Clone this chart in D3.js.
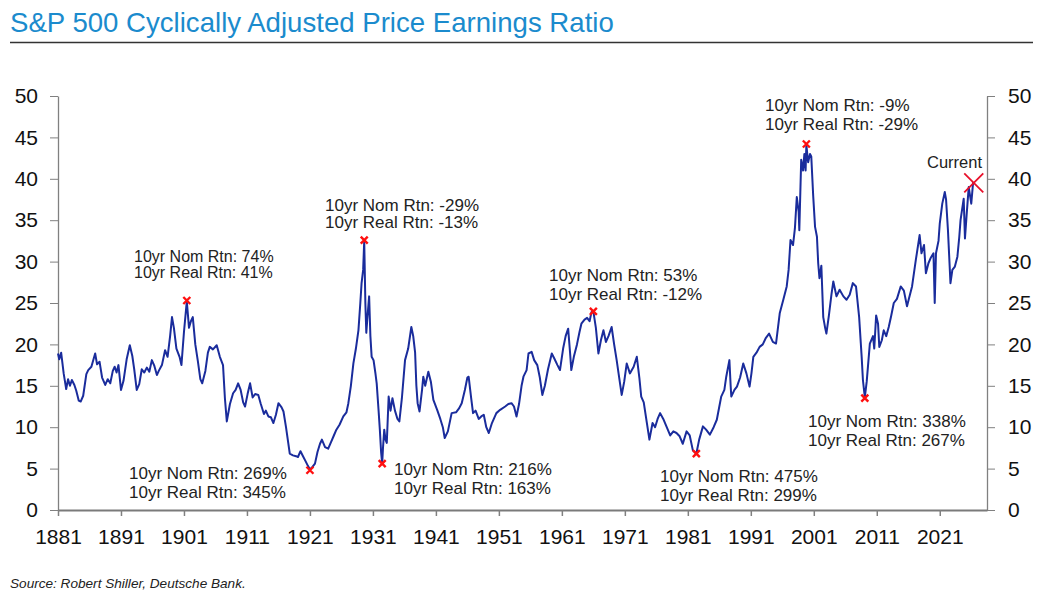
<!doctype html>
<html>
  <head>
    <meta charset="utf-8">
    <title>S&amp;P 500 CAPE</title>
    <script src="https://cdnjs.cloudflare.com/ajax/libs/d3/7.8.5/d3.min.js"></script>
    <style>
      body { margin: 0; background: #fff; }
      text { font-family: "Liberation Sans", Arial, sans-serif; }
    </style>
    <script>
      // CAPE series (decimal year, ratio)
      var years = [
        1881.0, 1881.2, 1881.5, 1881.9, 1882.3, 1882.6, 1882.9, 1883.2, 1883.6, 1883.9,
        1884.3, 1884.6, 1885.0, 1885.5, 1885.8, 1886.3, 1886.9, 1887.2, 1887.6, 1888.0,
        1888.5, 1888.9, 1889.3, 1889.7, 1890.0, 1890.3, 1890.6, 1891.0, 1891.4, 1891.9,
        1892.4, 1892.8, 1893.1, 1893.5, 1893.9, 1894.3, 1894.7, 1895.1, 1895.5, 1895.9,
        1896.3, 1896.7, 1897.0, 1897.5, 1898.0, 1898.4, 1898.8, 1899.1, 1899.4, 1899.8,
        1900.3, 1900.6, 1901.0, 1901.45, 1901.8, 1902.1, 1902.4, 1902.8, 1903.2, 1903.6,
        1903.9, 1904.4, 1904.8, 1905.1, 1905.6, 1906.2, 1906.7, 1907.2, 1907.5, 1907.8,
        1908.3, 1908.8, 1909.2, 1909.6, 1910.0, 1910.4, 1910.7, 1911.1, 1911.5, 1911.9,
        1912.3, 1912.8, 1913.2, 1913.7, 1914.0, 1914.4, 1914.8, 1915.2, 1915.6, 1916.0,
        1916.5, 1916.8, 1917.2, 1917.8, 1918.3, 1918.8, 1919.1, 1919.5, 1919.9, 1920.3,
        1920.7, 1921.0, 1921.4, 1921.8, 1922.2, 1922.6, 1922.9, 1923.4, 1923.9, 1924.4,
        1924.8, 1925.2, 1925.7, 1926.3, 1926.8, 1927.1, 1927.5, 1927.9, 1928.3, 1928.7,
        1929.0, 1929.2, 1929.45, 1929.62, 1929.8, 1929.95, 1930.1, 1930.4, 1930.6, 1930.8,
        1931.1, 1931.4, 1931.6, 1931.9, 1932.1, 1932.3, 1932.47, 1932.6, 1932.8, 1933.0,
        1933.2, 1933.5, 1933.8, 1934.1, 1934.5, 1934.9, 1935.2, 1935.6, 1936.1, 1936.6,
        1937.1, 1937.4, 1937.7, 1937.9, 1938.1, 1938.4, 1938.8, 1939.0, 1939.3, 1939.8,
        1940.2, 1940.6, 1941.2, 1941.7, 1942.1, 1942.4, 1942.9, 1943.5, 1944.2, 1944.7,
        1945.1, 1945.6, 1946.0, 1946.2, 1946.6, 1946.9, 1947.3, 1947.8, 1948.2, 1948.6,
        1949.0, 1949.4, 1949.9, 1950.6, 1951.2, 1952.0, 1952.5, 1953.0, 1953.4, 1953.8,
        1954.2, 1954.6, 1954.9, 1955.4, 1955.7, 1956.2, 1956.6, 1957.1, 1957.5, 1957.9,
        1958.3, 1958.8, 1959.4, 1959.8, 1960.3, 1960.7, 1961.2, 1961.6, 1962.0, 1962.3,
        1962.5, 1962.9, 1963.4, 1963.8, 1964.1, 1964.6, 1965.0, 1965.4, 1965.7, 1966.0,
        1966.4, 1966.8, 1967.2, 1967.6, 1968.0, 1968.4, 1968.9, 1969.3, 1969.7, 1970.1,
        1970.5, 1970.9, 1971.3, 1971.8, 1972.4, 1972.9, 1973.3, 1973.6, 1974.0, 1974.5,
        1974.9, 1975.4, 1975.8, 1976.2, 1976.6, 1977.1, 1977.6, 1978.2, 1978.7, 1979.2,
        1979.7, 1980.2, 1980.8, 1981.3, 1981.8, 1982.35, 1982.8, 1983.4, 1983.9, 1984.5,
        1985.1, 1985.6, 1986.0, 1986.3, 1986.8, 1987.1, 1987.6, 1987.8, 1987.9, 1988.4,
        1988.8, 1989.3, 1989.8, 1990.3, 1990.8, 1991.1, 1991.4, 1991.9, 1992.4, 1992.9,
        1993.4, 1993.9, 1994.5, 1995.0, 1995.6, 1996.2, 1996.7, 1997.0, 1997.3, 1997.7,
        1998.0, 1998.3, 1998.6, 1998.7, 1999.0, 1999.3, 1999.5, 1999.7, 1999.82, 2000.1,
        2000.4, 2000.6, 2000.9, 2001.2, 2001.5, 2001.7, 2001.9, 2002.2, 2002.5, 2002.8,
        2003.0, 2003.4, 2003.8, 2004.1, 2004.6, 2005.1, 2005.7, 2006.2, 2006.7, 2007.2,
        2007.7, 2008.2, 2008.6, 2008.8, 2009.1, 2009.4, 2009.9, 2010.4, 2010.6, 2010.9,
        2011.2, 2011.4, 2011.8, 2012.1, 2012.5, 2012.9, 2013.3, 2013.7, 2014.2, 2014.8,
        2015.3, 2015.8, 2016.1, 2016.6, 2017.2, 2017.8, 2018.1, 2018.5, 2018.8, 2019.2,
        2019.6, 2020.0, 2020.2, 2020.4, 2020.8, 2021.0, 2021.4, 2021.8, 2022.0, 2022.3,
        2022.7, 2023.0, 2023.4, 2023.8, 2024.1, 2024.3, 2024.8, 2025.0, 2025.3, 2025.6,
        2026.0, 2026.3
      ];
      var cape = [
        18.9, 18.2, 19.0, 16.5, 14.6, 15.8, 15.0, 15.7, 15.1, 14.4,
        13.2, 13.1, 13.8, 16.4, 16.9, 17.3, 18.9, 17.6, 17.9, 16.0,
        15.1, 15.8, 15.3, 16.8, 17.3, 16.6, 17.5, 14.5, 15.6, 18.2,
        19.9, 18.6, 17.0, 14.5, 15.2, 17.0, 16.6, 17.2, 16.7, 18.1,
        17.4, 16.3, 16.8, 17.5, 19.3, 18.5, 21.0, 23.3, 22.0, 19.5,
        18.5, 17.5, 21.5, 25.2, 22.0, 22.8, 23.3, 20.0, 18.0, 15.8,
        15.3, 16.8, 19.0, 19.7, 19.4, 19.9, 18.5, 17.5, 13.5, 10.7,
        12.8, 14.1, 14.5, 15.3, 14.5, 13.0, 12.5, 14.0, 15.3, 13.6,
        14.0, 13.9, 12.8, 11.6, 12.0, 11.3, 11.2, 10.5, 11.5, 12.9,
        12.4, 11.9, 10.0, 6.8, 6.6, 6.5, 6.4, 7.1, 6.5, 5.9,
        5.3, 4.9, 5.2, 5.6, 7.0, 8.0, 8.5, 7.6, 7.4, 8.3,
        9.0, 9.7, 10.3, 11.3, 11.8, 12.9, 15.0, 17.7, 19.5, 21.7,
        25.0, 27.4, 29.0, 32.5, 25.0, 21.4, 23.0, 25.8, 21.0, 18.5,
        18.1, 16.5, 15.3, 12.0, 9.7, 7.0, 5.6, 7.5, 9.7, 8.5,
        8.1, 13.7, 12.0, 13.5, 12.0, 11.0, 10.7, 13.5, 18.1, 19.5,
        22.1, 21.0, 19.0, 15.0, 12.9, 11.9, 14.5, 16.1, 15.0, 16.7,
        15.5, 13.3, 12.1, 11.0, 10.0, 8.7, 9.5, 11.7, 11.8, 12.3,
        12.9, 14.5, 16.0, 16.1, 13.5, 11.7, 12.0, 11.0, 11.3, 11.5,
        10.0, 9.3, 10.5, 11.7, 12.1, 12.5, 12.8, 12.9, 12.5, 11.3,
        12.8, 15.0, 16.1, 16.9, 18.9, 19.1, 18.1, 17.5, 16.0, 13.9,
        15.0, 17.0, 18.9, 18.3, 17.5, 16.9, 19.5, 21.0, 21.9, 19.0,
        16.9, 18.5, 20.0, 21.5, 22.5, 23.0, 23.2, 22.8, 23.9, 24.0,
        22.0, 18.9, 20.5, 21.7, 20.3, 21.0, 22.1, 20.0, 18.1, 16.0,
        13.9, 15.5, 17.7, 16.5, 17.3, 18.5, 16.0, 13.7, 13.0, 10.5,
        8.5, 10.5, 10.0, 11.0, 11.7, 11.0, 10.1, 9.0, 9.5, 9.3,
        8.9, 8.0, 9.5, 9.0, 7.2, 6.8, 8.5, 10.1, 9.7, 9.1,
        10.0, 10.9, 12.5, 13.7, 14.5, 16.1, 18.1, 15.0, 13.7, 14.5,
        14.9, 16.0, 17.7, 16.5, 14.9, 16.5, 18.5, 19.0, 19.7, 20.0,
        20.8, 21.3, 20.3, 20.1, 23.8, 25.5, 27.0, 29.0, 32.6, 32.0,
        34.0, 37.8, 36.0, 33.8, 42.3, 41.0, 43.0, 41.0, 44.1, 42.0,
        43.0, 42.7, 38.0, 34.2, 33.0, 29.8, 28.0, 29.5, 23.3, 22.0,
        21.3, 23.5, 26.0, 27.6, 25.8, 26.6, 25.8, 25.4, 26.0, 27.4,
        27.0, 23.3, 18.5, 15.7, 13.6, 15.5, 20.1, 21.0, 19.5, 23.5,
        22.5, 19.7, 20.5, 21.7, 21.0, 22.1, 23.5, 25.0, 25.5, 27.0,
        26.5, 24.6, 25.5, 27.0, 30.2, 33.2, 31.0, 32.0, 28.6, 29.8,
        30.5, 31.0, 25.0, 31.0, 32.5, 34.6, 37.0, 38.4, 37.5, 33.8,
        27.4, 29.0, 29.4, 30.6, 33.0, 35.0, 37.6, 32.8, 36.0, 39.0,
        37.0, 39.6
      ];

      var yTicks = [0, 5, 10, 15, 20, 25, 30, 35, 40, 45, 50];
      var xTicks = [1881, 1891, 1901, 1911, 1921, 1931, 1941, 1951, 1961, 1971, 1981, 1991, 2001, 2011, 2021];

      // marked turning points
      var markYears = [1901.45, 1929.62, 1921.0, 1932.47, 1966.0, 1982.35, 1999.82, 2009.1];
      var markValues = [25.3, 32.6, 4.8, 5.6, 24.0, 6.8, 44.2, 13.5];
      var nomRtn = ["74%", "-29%", "269%", "216%", "53%", "475%", "-9%", "338%"];
      var realRtn = ["41%", "-13%", "345%", "163%", "-12%", "299%", "-29%", "267%"];
      var currentYear = 2026.4, currentValue = 39.5;

      document.addEventListener('DOMContentLoaded', function() {

        var width = 1041, height = 595;
        var svg = d3.select("body").append("svg")
            .attr("width", width)
            .attr("height", height);

        var x = d3.scaleLinear().domain([1881, 2028.5]).range([58, 987]);
        var y = d3.scaleLinear().domain([0, 50]).range([510, 96]);

        // title + rule
        svg.append("text")
            .attr("x", 10).attr("y", 32)
            .attr("font-size", 27.6)
            .attr("fill", "#1b8bcd")
            .text("S&P 500 Cyclically Adjusted Price Earnings Ratio");
        svg.append("line")
            .attr("x1", 10).attr("x2", 1033)
            .attr("y1", 42.5).attr("y2", 42.5)
            .attr("stroke", "#333").attr("stroke-width", 1.5);

        // axes
        var left = svg.append("g")
            .attr("transform", "translate(58,0)")
            .call(d3.axisLeft(y).tickValues(yTicks).tickSize(8).tickSizeOuter(0).tickPadding(12));
        var right = svg.append("g")
            .attr("transform", "translate(987,0)")
            .call(d3.axisRight(y).tickValues(yTicks).tickSize(8).tickSizeOuter(0).tickPadding(13));
        var bottom = svg.append("g")
            .attr("transform", "translate(0,510)")
            .call(d3.axisBottom(x).tickValues(xTicks).tickFormat(d3.format("d")).tickSize(6).tickSizeOuter(0).tickPadding(13));

        [left, right, bottom].forEach(function(g) {
          g.selectAll("text").attr("font-size", 21).attr("fill", "#111")
              .attr("font-family", "'Liberation Sans', Arial, sans-serif");
          g.selectAll("line").attr("stroke", "#808080");
          g.select(".domain").attr("stroke", "#808080").attr("stroke-width", 1.3);
        });
        bottom.select(".domain").attr("stroke", "#7a7a7a").attr("stroke-width", 2.2);
        bottom.selectAll("line").attr("stroke-width", 1.5);

        // the series
        var pts = years.map(function(d, i) { return [d, cape[i]]; });
        var line = d3.line()
            .x(function(d) { return x(d[0]); })
            .y(function(d) { return y(d[1]); });
        svg.append("path")
            .datum(pts)
            .attr("d", line)
            .attr("fill", "none")
            .attr("stroke", "#1a2c9c")
            .attr("stroke-width", 2)
            .attr("stroke-linejoin", "round");

        // red crosses on turning points
        svg.selectAll(".mark")
            .data(markYears)
            .join("path")
            .attr("class", "mark")
            .attr("transform", function(d, i) { return "translate(" + x(d) + "," + y(markValues[i]) + ")"; })
            .attr("d", "M-3.5,-3.5L3.5,3.5M-3.5,3.5L3.5,-3.5")
            .attr("stroke", "#ff1010")
            .attr("stroke-width", 2.4);

        // label placement: [left x, first baseline, line gap, font size]
        var labelPos = [
          [134, 262, 16, 16], [325, 211, 17, 17], [129, 479, 19, 17], [394, 475, 19, 17],
          [549, 281, 19, 17], [660, 482, 19, 17], [765, 111, 19, 17], [808, 427, 19, 17]
        ];
        var lab = svg.selectAll(".lab")
            .data(nomRtn)
            .join("text")
            .attr("class", "lab")
            .attr("font-size", function(d, i) { return labelPos[i][3]; })
            .attr("fill", "#222");
        lab.append("tspan")
            .attr("x", function(d, i) { return labelPos[i][0]; })
            .attr("y", function(d, i) { return labelPos[i][1]; })
            .text(function(d) { return "10yr Nom Rtn: " + d; });
        lab.append("tspan")
            .attr("x", function(d, i) { return labelPos[i][0]; })
            .attr("y", function(d, i) { return labelPos[i][1] + labelPos[i][2]; })
            .text(function(d, i) { return "10yr Real Rtn: " + realRtn[i]; });

        // current reading
        svg.append("path")
            .attr("transform", "translate(" + x(currentYear) + "," + y(currentValue) + ")")
            .attr("d", "M-9.5,-9.5L9.5,9.5M-9.5,9.5L9.5,-9.5")
            .attr("stroke", "#e8102a")
            .attr("stroke-width", 1.8);
        svg.append("text")
            .attr("x", 982).attr("y", 168)
            .attr("text-anchor", "end")
            .attr("font-size", 16.5)
            .attr("fill", "#222")
            .text("Current");

        svg.append("text")
            .attr("x", 10).attr("y", 588)
            .attr("font-size", 13.6)
            .attr("font-style", "italic")
            .attr("fill", "#222")
            .text("Source: Robert Shiller, Deutsche Bank.");
      });
    </script>
  </head>
  <body>
  </body>
</html>
